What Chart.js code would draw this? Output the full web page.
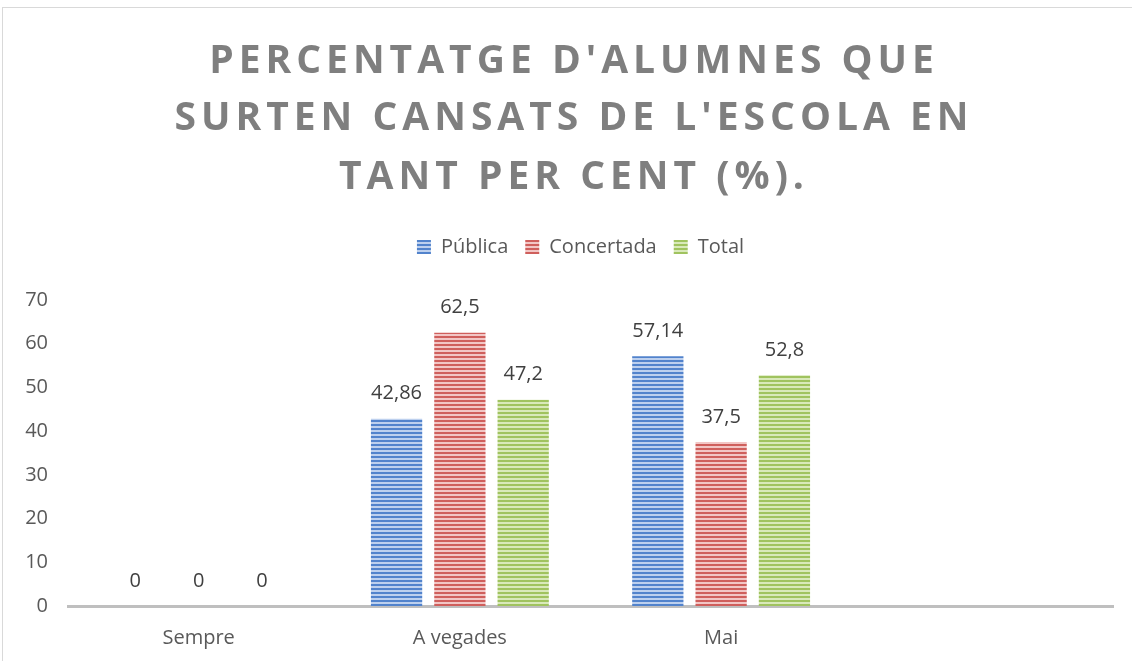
<!DOCTYPE html>
<html>
<head>
<meta charset="utf-8">
<script src="https://cdn.jsdelivr.net/npm/chart.js@4.4.1/dist/chart.umd.min.js"></script>
<style>
  html, body { margin: 0; padding: 0; background: #fff; overflow: hidden; }
  #wrap { position: relative; width: 1132px; height: 661px; }
  #frame { position: absolute; left: 2px; top: 7px; width: 1200px; height: 700px;
           border: 1px solid #d9d9d9; box-sizing: border-box; }
  canvas { position: absolute; left: 0; top: 0; }
</style>
</head>
<body>
<div id="wrap">
  <div id="frame"></div>
  <canvas id="myChart" width="1132" height="661"></canvas>
</div>
<script>
// data
var categories = ["Sempre", "A vegades", "Mai", ""];
var publica    = [0, 42.86, 57.14, null];
var concertada = [0, 62.5, 37.5, null];
var total      = [0, 47.2, 52.8, null];
var seriesNames = ["Pública", "Concertada", "Total"];
var titleLines = ["PERCENTATGE D'ALUMNES QUE", "SURTEN CANSATS DE L'ESCOLA EN", "TANT PER CENT (%)."];

// striped fill like the original office chart
function stripes(dark, light) {
  var c = document.createElement('canvas');
  c.width = 8; c.height = 4;
  var g = c.getContext('2d');
  g.fillStyle = light; g.fillRect(0, 0, 8, 4);
  g.fillStyle = dark;  g.fillRect(0, 0, 8, 2);
  return g.createPattern(c, 'repeat');
}
var blueFill  = stripes("#5283cc", "#bdd0ee");
var redFill   = stripes("#cf5f5c", "#f2c6c5");
var greenFill = stripes("#a0c35f", "#d9e9ba");

function fmt(v) { return String(v).replace('.', ','); }

// title with wide letter spacing
var titlePlugin = {
  id: 'spacedTitle',
  afterDraw: function (chart) {
    var ctx = chart.ctx;
    ctx.save();
    ctx.font = "bold 39px 'Open Sans'";
    ctx.fillStyle = "#7f7f7f";
    ctx.textAlign = "center";
    ctx.textBaseline = "middle";
    ctx.letterSpacing = "5px";
    var ys = [62, 119, 178];
    titleLines.forEach(function (t, i) {
      ctx.fillText(t, 574, ys[i]);
    });
    ctx.restore();
  }
};

// nudge legend: sits higher and a bit right of the plot centre
var legendShift = {
  id: 'legendShift',
  afterLayout: function (chart) {
    var l = chart.legend;
    l.top -= 33; l.bottom -= 33;
    l.left += 24; l.right += 24;
  }
};

// value labels above the bars
var labelPlugin = {
  id: 'valueLabels',
  afterDatasetsDraw: function (chart) {
    var ctx = chart.ctx;
    ctx.save();
    ctx.font = "20px 'Open Sans'";
    ctx.fillStyle = "#404040";
    ctx.textAlign = "center";
    ctx.textBaseline = "middle";
    chart.data.datasets.forEach(function (ds, i) {
      chart.getDatasetMeta(i).data.forEach(function (bar, j) {
        var v = ds.data[j];
        if (v === null || v === undefined) return;
        ctx.fillText(fmt(v), bar.x, bar.y - 25);
      });
    });
    ctx.restore();
  }
};

new Chart(document.getElementById('myChart'), {
  type: 'bar',
  data: {
    labels: categories,
    datasets: [
      { label: seriesNames[0], data: publica, backgroundColor: blueFill },
      { label: seriesNames[1], data: concertada, backgroundColor: redFill },
      { label: seriesNames[2], data: total, backgroundColor: greenFill }
    ]
  },
  options: {
    responsive: false,
    animation: false,
    categoryPercentage: 0.727,
    barPercentage: 0.81,
    layout: { padding: { top: 253, left: 0, right: 19, bottom: 0 } },
    plugins: {
      title: { display: false },
      tooltip: { enabled: false },
      legend: {
        position: 'top',
        labels: {
          font: { family: "'Open Sans'", size: 20 },
          color: "#595959",
          boxWidth: 14,
          boxHeight: 14,
          padding: 17
        }
      }
    },
    scales: {
      x: {
        afterFit: function (s) { s.height = 55; },
        grid: { display: false, drawTicks: false },
        border: { display: true, color: "#bfbfbf", width: 3 },
        ticks: { font: { family: "'Open Sans'", size: 20 }, color: "#595959", padding: 20 }
      },
      y: {
        min: 0, max: 70,
        afterFit: function (s) { s.width = 68; },
        grid: { display: false, drawTicks: false },
        border: { display: false },
        ticks: { stepSize: 10, font: { family: "'Open Sans'", size: 20 }, color: "#595959", padding: 20 }
      }
    }
  },
  plugins: [titlePlugin, legendShift, labelPlugin]
});
</script>
</body>
</html>
